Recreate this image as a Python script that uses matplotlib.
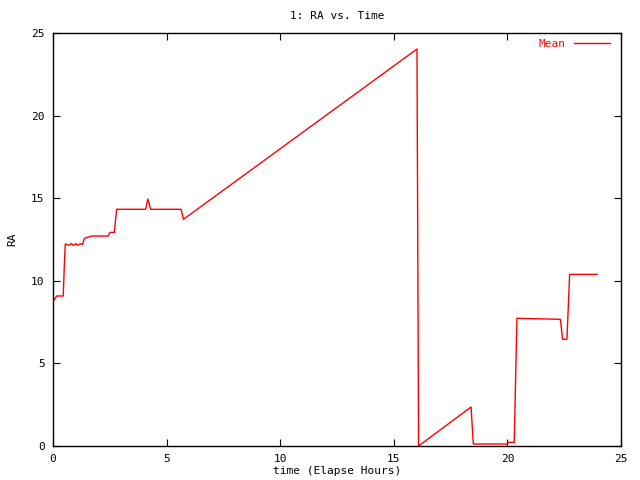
import matplotlib
matplotlib.use("Agg")
import matplotlib.pyplot as plt

title = "1: RA vs. Time"
xlabel = "time (Elapse Hours)"
ylabel = "RA"
series_name = "Mean"

hours = [0.0, 0.16, 0.45, 0.50, 0.54, 0.7, 0.8, 0.9, 1.0, 1.1, 1.2, 1.3, 1.38, 1.7,
         2.43, 2.51, 2.70, 2.80, 4.08, 4.17, 4.30, 5.64, 5.74, 16.02, 16.09,
         18.40, 18.50, 19.98, 20.05, 20.30, 20.42, 22.33, 22.43, 22.62, 22.74, 23.95]
ra = [8.73, 9.08, 9.08, 11.0, 12.23, 12.15, 12.25, 12.15, 12.25, 12.15, 12.25, 12.20, 12.57, 12.71,
      12.71, 12.93, 12.93, 14.33, 14.33, 14.95, 14.33, 14.33, 13.72, 24.03, 0.0,
      2.36, 0.12, 0.12, 0.22, 0.22, 7.73, 7.67, 6.46, 6.46, 10.39, 10.39]

xticks = [0, 5, 10, 15, 20, 25]
yticks = [0, 5, 10, 15, 20, 25]

plt.rcParams['font.family'] = ['DejaVu Sans Mono']
fig = plt.figure(figsize=(6.4, 4.8), dpi=100)
ax = fig.add_axes([53/640, 1-446/480, (621-53)/640, (446-33)/480])
ax.plot(hours, ra, color='red', linewidth=1.0, label=series_name)
ax.set_xlim(0, 25)
ax.set_ylim(0, 25)
ax.set_xticks(xticks)
ax.set_yticks(yticks)
ax.tick_params(direction='in', top=True, right=True, length=5, labelsize=8, pad=6)
for s in ax.spines.values():
    s.set_linewidth(1.0)
ax.set_title(title, fontsize=8, pad=10)
ax.set_xlabel(xlabel, fontsize=8, labelpad=1)
ax.set_ylabel(ylabel, fontsize=8, labelpad=10)
leg = ax.legend(loc='upper right', frameon=False, fontsize=8, markerfirst=False,
                handlelength=3.2, labelcolor='red', bbox_to_anchor=(0.994, 1.004),
                borderaxespad=0.3)
fig.savefig("out.png", dpi=100)
